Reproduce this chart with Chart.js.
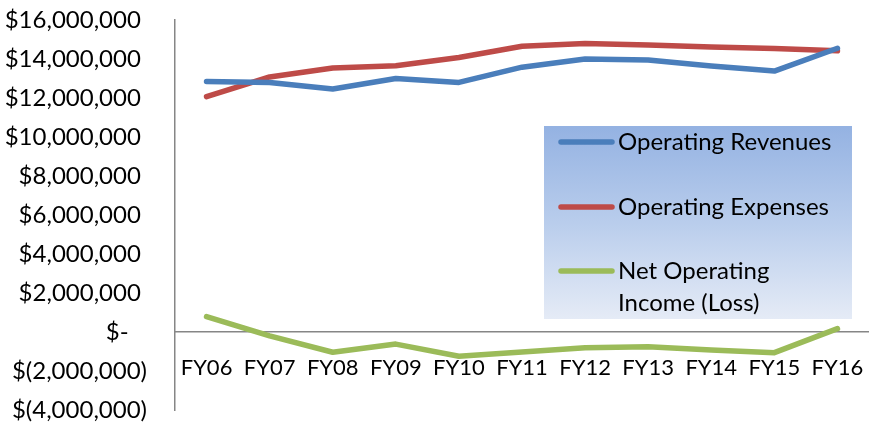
<!DOCTYPE html>
<html>
<head>
<meta charset="utf-8">
<script src="https://cdn.jsdelivr.net/npm/chart.js@4.4.1/dist/chart.umd.min.js"></script>
<style>
  html, body { margin: 0; padding: 0; background: #fff; }
  #wrap { width: 869px; height: 427px; position: relative; }
</style>
</head>
<body>
<div id="wrap"><canvas id="myChart"></canvas></div>
<script>
// fiscal years on the x axis
const years = ['FY06', 'FY07', 'FY08', 'FY09', 'FY10', 'FY11', 'FY12', 'FY13', 'FY14', 'FY15', 'FY16'];

// dollars
const revenues = [12850000, 12800000, 12460000, 13000000, 12800000, 13580000, 14000000, 13950000, 13640000, 13380000, 14550000];
const expenses = [12070000, 13080000, 13540000, 13650000, 14080000, 14650000, 14800000, 14720000, 14620000, 14540000, 14420000];
const netIncome = [790000, -200000, -1040000, -620000, -1240000, -1020000, -810000, -760000, -920000, -1060000, 170000];

// y ticks
const yMin = -4000000;
const yMax = 16000000;
const yStep = 2000000;

// legend text, third one wraps onto two lines like the original
const legendLines = [['Operating Revenues'], ['Operating Expenses'], ['Net Operating', 'Income (Loss)']];

const FONT = 'Lato, "Liberation Sans", sans-serif';

function money(v) {
  if (v === 0) return '$-   ';
  const s = Math.abs(v).toLocaleString('en-US');
  return v < 0 ? '$(' + s + ')' : '$' + s + ' ';
}

// excel style legend sitting inside the plot, with a blue gradient fill
const boxLegend = {
  id: 'boxLegend',
  afterDraw(chart) {
    const ctx = chart.ctx;
    const x = 544, y = 126, w = 308, h = 193;
    ctx.save();
    const g = ctx.createLinearGradient(0, y, 0, y + h);
    g.addColorStop(0, '#94b2e2');
    g.addColorStop(0.5, '#b9cdec');
    g.addColorStop(1, '#e5ebf6');
    ctx.fillStyle = g;
    ctx.fillRect(x, y, w, h);

    const rows = [142, 207, 271];
    ctx.font = '24px ' + FONT;
    ctx.textBaseline = 'middle';
    ctx.fillStyle = '#000';
    chart.data.datasets.forEach((ds, i) => {
      const cy = rows[i];
      ctx.strokeStyle = ds.borderColor;
      ctx.lineWidth = 5.5;
      ctx.lineCap = 'round';
      ctx.beginPath();
      ctx.moveTo(561, cy);
      ctx.lineTo(612, cy);
      ctx.stroke();
      legendLines[i].forEach((t, j) => ctx.fillText(t, 618, cy + j * 32));
    });
    ctx.restore();
  }
};

const ctx = document.getElementById('myChart').getContext('2d');
const myChart = new Chart(ctx, {
  type: 'line',
  data: {
    labels: years,
    datasets: [
      { label: legendLines[0].join(' '), data: revenues, borderColor: '#4a7ebb' },
      { label: legendLines[1].join(' '), data: expenses, borderColor: '#be4b48' },
      { label: legendLines[2].join(' '), data: netIncome, borderColor: '#9bbb59' }
    ]
  },
  options: {
    responsive: true,
    maintainAspectRatio: false,
    animation: false,
    layout: { padding: { top: 20, bottom: 17, left: 0, right: -6 } },
    elements: {
      point: { radius: 0, hoverRadius: 0 },
      line: { borderWidth: 5.5, tension: 0, borderCapStyle: 'round', borderJoinStyle: 'round', fill: false }
    },
    plugins: {
      legend: { display: false },
      tooltip: { enabled: false }
    },
    scales: {
      x: {
        type: 'category',
        offset: true,
        position: { y: 0 },
        grid: { display: false, drawTicks: false },
        border: { display: true, color: '#868686', width: 1.5 },
        ticks: { color: '#000', font: { family: FONT, size: 22 }, padding: 23, maxRotation: 0, autoSkip: false },
        afterFit: s => { s.height = 0; s.paddingLeft = 0; s.paddingRight = 0; }
      },
      y: {
        min: yMin,
        max: yMax,
        grid: { display: false, drawTicks: false },
        border: { display: true, color: '#868686', width: 1.5 },
        ticks: {
          stepSize: yStep,
          color: '#000',
          font: { family: FONT, size: 24 },
          padding: 28,
          callback: v => money(v)
        },
        afterFit: s => { s.width = 175; s.paddingTop = 0; s.paddingBottom = 0; }
      }
    }
  },
  plugins: [boxLegend]
});
</script>
</body>
</html>
